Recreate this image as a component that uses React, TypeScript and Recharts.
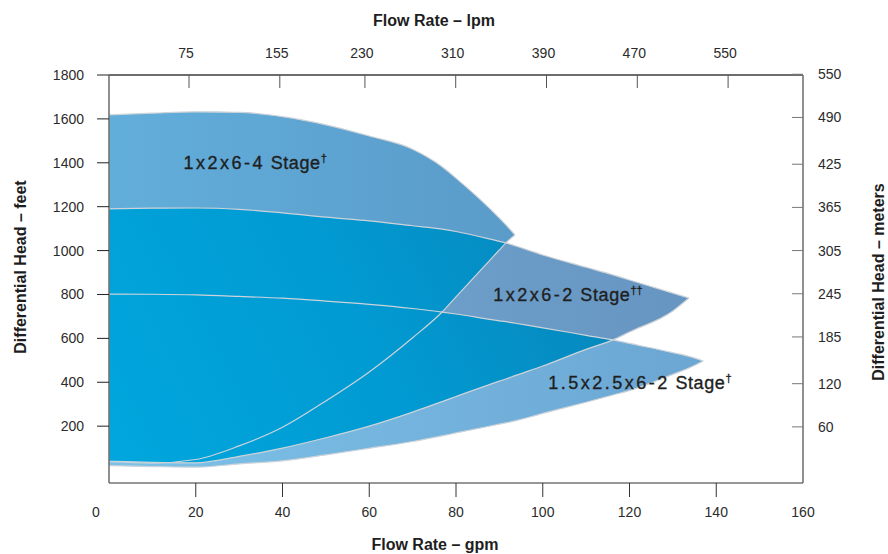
import React from "react";
import { Area, ComposedChart, Label, ReferenceDot, XAxis, YAxis } from "recharts";

const flowGpm = [0, 10, 20, 30, 40, 50, 60, 70, 76.8, 80, 90, 91.5, 93.6, 100, 110, 116.2, 120, 130, 133.7, 137];

// 1x2x6 - 4 stage (ends at 93.6 gpm)
const fourStageHigh = [1618, 1626, 1632, 1630, 1610, 1573, 1522, 1462, 1382, 1330, 1148, 1117, 1071];
const fourStageLow = [38, 32, 48, 110, 195, 315, 447, 603, 720, 789, 1003, 1035, 1071];

// 1x2x6 - 2 stage (ends at 133.7 gpm)
const twoStageHigh = [1190, 1193, 1194, 1188, 1172, 1152, 1135, 1113, 1098, 1087, 1042, 1035, 1022, 980, 924, 889, 866, 806, 784];
const twoStageLow = [40, 35, 33, 62, 100, 147, 200, 264, 312, 335, 405, 415, 430, 474, 550, 593, 629, 725, 784];

// 1.5x2.5x6 - 2 stage (ends at 137 gpm)
const bigTwoStageHigh = [802, 801, 798, 791, 783, 770, 755, 736, 720, 711, 680, 676, 669, 648, 614, 593, 577, 535, 518, 497];
const bigTwoStageLow = [20, 16, 13, 28, 42, 69, 99, 130, 156, 169, 209, 215, 224, 258, 309, 342, 362, 436, 465, 497];

const gpmTicks = [0, 20, 40, 60, 80, 100, 120, 140, 160];
const lpmTicks = [75, 155, 230, 310, 390, 470, 550];
const feetTicks = [200, 400, 600, 800, 1000, 1200, 1400, 1600, 1800];
const meterTicks = [60, 120, 185, 245, 305, 365, 425, 490, 550];

const LPM_PER_GPM = 3.785;

const regionLabels = [
  { size: "1x2x6-4", marks: "\u2020", q: 33.7, head: 1399 },
  { size: "1x2x6-2", marks: "\u2020\u2020", q: 105.8, head: 798 },
  { size: "1.5x2.5x6-2", marks: "\u2020", q: 122.4, head: 397 },
];

const FONT = '"Liberation Sans", Arial, Helvetica, sans-serif';

type Band = [number, number] | null;

const band = (low: number[], high: number[], i: number): Band =>
  i < high.length ? [low[i], high[i]] : null;

const overlap = (a: Band, b: Band): Band => {
  if (!a || !b) return null;
  const lo = Math.max(a[0], b[0]);
  const hi = Math.min(a[1], b[1]);
  return lo <= hi ? [lo, hi] : null;
};

const rows = flowGpm.map((q, i) => {
  const r1 = band(fourStageLow, fourStageHigh, i);
  const r2 = band(twoStageLow, twoStageHigh, i);
  const r3 = band(bigTwoStageLow, bigTwoStageHigh, i);
  return {
    q,
    lpm: q * LPM_PER_GPM,
    r1,
    r2,
    r3,
    o12: overlap(r1, r2),
    o23: overlap(r2, r3),
    o13: overlap(r1, r3),
  };
});

const tickText = { fontFamily: FONT, fontSize: 14, fill: "#2b2b2b" };
const titleText = { fontFamily: FONT, fontSize: 16, fontWeight: 700, fill: "#1e1e1e" };

function BottomTick({ x, y, payload }: any) {
  const v = payload.value;
  const edge = v === gpmTicks[0] || v === gpmTicks[gpmTicks.length - 1];
  return (
    <g>
      {!edge && <line x1={x} x2={x} y1={y} y2={y + 14} stroke="#333" />}
      <text x={x + (v === 0 ? -13 : 0)} y={y + 34} textAnchor="middle" {...tickText}>
        {v}
      </text>
    </g>
  );
}

function TopTick({ x, y, payload }: any) {
  return (
    <g>
      <line x1={x} x2={x} y1={y} y2={y + 13} stroke="#555" />
      <text x={x - 3} y={y - 17} textAnchor="middle" {...tickText}>
        {payload.value}
      </text>
    </g>
  );
}

function LeftTick({ x, y, payload }: any) {
  return (
    <g>
      <line x1={x - 12} x2={x} y1={y} y2={y} stroke="#222" />
      <text x={x - 25} y={y + 5} textAnchor="end" {...tickText}>
        {payload.value}
      </text>
    </g>
  );
}

function RightTick({ x, y, payload }: any) {
  return (
    <g>
      <line x1={x - 11} x2={x} y1={y} y2={y} stroke="#777" />
      <text x={x + 15} y={y + 5} textAnchor="start" {...tickText}>
        {payload.value}
      </text>
    </g>
  );
}

function regionLabel(size: string, marks: string) {
  return ({ viewBox }: any) => (
    <text
      x={viewBox.x}
      y={viewBox.y + 6}
      textAnchor="middle"
      fontFamily={FONT}
      fontSize={18}
      fill="#1f1f1f"
      stroke="#1f1f1f"
      strokeWidth={0.35}
    >
      <tspan letterSpacing={2.5}>{size}</tspan>
      <tspan letterSpacing={0.6}> Stage</tspan>
      <tspan fontSize={11} dy={-7}>
        {marks}
      </tspan>
    </text>
  );
}

const outline = { fill: "none", stroke: "#cdd3d9", strokeWidth: 1.2 };

export default function App() {
  return (
    <div style={{ position: "absolute", left: 0, top: 0, background: "#fff" }}>
      <ComposedChart
        width={888}
        height={554}
        data={rows}
        margin={{ top: 35, right: 0, bottom: 31, left: 0 }}
      >
        <defs>
          <linearGradient id="g4" x1="0" y1="0" x2="1" y2="0">
            <stop offset="0%" stopColor="#62aedb" />
            <stop offset="100%" stopColor="#5a9bc9" />
          </linearGradient>
          <linearGradient id="g2" x1="0" y1="0" x2="1" y2="0">
            <stop offset="0%" stopColor="#72abd4" />
            <stop offset="100%" stopColor="#6795c1" />
          </linearGradient>
          <linearGradient id="g3" x1="0" y1="0" x2="1" y2="0">
            <stop offset="0%" stopColor="#7cc2e8" />
            <stop offset="100%" stopColor="#6ca6d3" />
          </linearGradient>
          <linearGradient id="gOver" gradientUnits="userSpaceOnUse" x1="15%" y1="85%" x2="75%" y2="35%">
            <stop offset="0%" stopColor="#00a6dd" />
            <stop offset="45%" stopColor="#019ad2" />
            <stop offset="100%" stopColor="#0980b4" />
          </linearGradient>
        </defs>

        <Area xAxisId="bottom" yAxisId="left" dataKey="r1" type="monotone" fill="url(#g4)" fillOpacity={1} stroke="none" dot={false} activeDot={false} isAnimationActive={false} />
        <Area xAxisId="bottom" yAxisId="left" dataKey="r2" type="monotone" fill="url(#g2)" fillOpacity={1} stroke="none" dot={false} activeDot={false} isAnimationActive={false} />
        <Area xAxisId="bottom" yAxisId="left" dataKey="r3" type="monotone" fill="url(#g3)" fillOpacity={1} stroke="none" dot={false} activeDot={false} isAnimationActive={false} />

        <Area xAxisId="bottom" yAxisId="left" dataKey="o12" type="monotone" fill="url(#gOver)" fillOpacity={1} stroke="none" dot={false} activeDot={false} isAnimationActive={false} />
        <Area xAxisId="bottom" yAxisId="left" dataKey="o23" type="monotone" fill="url(#gOver)" fillOpacity={1} stroke="none" dot={false} activeDot={false} isAnimationActive={false} />
        <Area xAxisId="bottom" yAxisId="left" dataKey="o13" type="monotone" fill="url(#gOver)" fillOpacity={1} stroke="none" dot={false} activeDot={false} isAnimationActive={false} />

        <Area xAxisId="bottom" yAxisId="left" dataKey="r1" type="monotone" {...outline} dot={false} activeDot={false} isAnimationActive={false} />
        <Area xAxisId="bottom" yAxisId="left" dataKey="r2" type="monotone" {...outline} dot={false} activeDot={false} isAnimationActive={false} />
        <Area xAxisId="bottom" yAxisId="left" dataKey="r3" type="monotone" {...outline} dot={false} activeDot={false} isAnimationActive={false} />

        <XAxis
          xAxisId="bottom"
          dataKey="q"
          type="number"
          domain={[0, 160]}
          allowDataOverflow
          ticks={gpmTicks}
          interval={0}
          height={40}
          tickSize={0}
          tickMargin={0}
          tickLine={false}
          axisLine={{ stroke: "#747474", strokeWidth: 1.6 }}
          tick={<BottomTick />}
        >
          <Label
            content={({ viewBox }: any) => (
              <text x={viewBox.x + viewBox.width / 2 - 21} y={viewBox.y + viewBox.height + 27} textAnchor="middle" {...titleText}>
                Flow Rate – gpm
              </text>
            )}
          />
        </XAxis>
        <XAxis
          xAxisId="top"
          orientation="top"
          dataKey="lpm"
          type="number"
          domain={[4.5, 616]}
          allowDataOverflow
          ticks={lpmTicks}
          interval={0}
          height={40}
          tickSize={0}
          tickMargin={0}
          tickLine={false}
          axisLine={{ stroke: "#3c3c3c", strokeWidth: 1.3 }}
          tick={<TopTick />}
        >
          <Label
            content={({ viewBox }: any) => (
              <text x={viewBox.x + viewBox.width / 2 - 22} y={viewBox.y - 9} textAnchor="middle" {...titleText}>
                Flow Rate – lpm
              </text>
            )}
          />
        </XAxis>
        <YAxis
          yAxisId="left"
          type="number"
          domain={[-59, 1800]}
          allowDataOverflow
          ticks={feetTicks}
          interval={0}
          width={109}
          tickSize={0}
          tickMargin={0}
          tickLine={false}
          axisLine={{ stroke: "#747474", strokeWidth: 1.6 }}
          tick={<LeftTick />}
        >
          <Label
            content={({ viewBox }: any) => {
              const cx = 26;
              const cy = viewBox.y + viewBox.height / 2 - 12;
              return (
                <text x={cx} y={cy} textAnchor="middle" transform={`rotate(-90 ${cx} ${cy})`} {...titleText}>
                  Differential Head – feet
                </text>
              );
            }}
          />
        </YAxis>
        <YAxis
          yAxisId="right"
          orientation="right"
          type="number"
          domain={[-18, 549]}
          allowDataOverflow
          ticks={meterTicks}
          interval={0}
          width={85}
          tickSize={0}
          tickMargin={0}
          tickLine={false}
          axisLine={{ stroke: "#747474", strokeWidth: 1.6 }}
          tick={<RightTick />}
        >
          <Label
            content={({ viewBox }: any) => {
              const cx = viewBox.x + viewBox.width - 4;
              const cy = viewBox.y + viewBox.height / 2 + 3;
              return (
                <text x={cx} y={cy} textAnchor="middle" transform={`rotate(-90 ${cx} ${cy})`} {...titleText}>
                  Differential Head – meters
                </text>
              );
            }}
          />
        </YAxis>

        {regionLabels.map((l) => (
          <ReferenceDot
            key={l.size}
            xAxisId="bottom"
            yAxisId="left"
            x={l.q}
            y={l.head}
            r={0}
            fill="none"
            stroke="none"
            label={regionLabel(l.size, l.marks)}
          />
        ))}
      </ComposedChart>
    </div>
  );
}
